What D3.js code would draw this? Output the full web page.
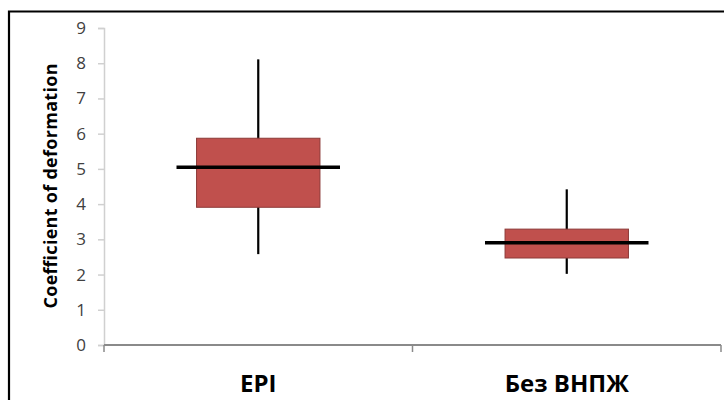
<!DOCTYPE html>
<html>
<head>
<meta charset="utf-8">
<script src="https://cdn.jsdelivr.net/npm/d3@7"></script>
<style>
  body { margin: 0; background: #fff; }
  svg { display: block; }
</style>
</head>
<body>
<script>
// data
var categories = ["EPI", "Без ВНПЖ"];
var whiskerLow  = [2.58, 2.02];
var boxLow      = [3.91, 2.47];
var medians     = [5.05, 2.90];
var boxHigh     = [5.87, 3.29];
var whiskerHigh = [8.11, 4.42];
var yTicks = [0, 1, 2, 3, 4, 5, 6, 7, 8, 9];

var width = 724, height = 400;
var margin = {top: 28, right: 3, bottom: 55, left: 104};

var svg = d3.select("body").append("svg")
    .attr("width", width)
    .attr("height", height);

// chart frame
svg.append("path")
    .attr("d", "M9,400 V11.5 H724")
    .attr("fill", "none")
    .attr("stroke", "#000")
    .attr("stroke-width", 2.2);

var xScale = d3.scaleBand()
    .domain(categories)
    .range([margin.left, width - margin.right]);

var yScale = d3.scaleLinear()
    .domain([0, 9])
    .range([height - margin.bottom, margin.top]);

var rows = categories.map(function (c, i) {
    return {cat: c, wl: whiskerLow[i], bl: boxLow[i], med: medians[i], bh: boxHigh[i], wh: whiskerHigh[i]};
});

// y axis
var yAxis = svg.append("g")
    .attr("transform", "translate(" + margin.left + ",0)")
    .call(d3.axisLeft(yScale).tickValues(yTicks).tickSize(6).tickPadding(12));
yAxis.select(".domain").attr("stroke", "#d0d0d0").attr("stroke-width", 1.5);
yAxis.selectAll(".tick line").attr("stroke", "#d0d0d0").attr("stroke-width", 1.5);
yAxis.selectAll(".tick text")
    .attr("fill", "#404040")
    .attr("font-family", "Open Sans, sans-serif")
    .attr("font-size", 17);

// x axis
var xAxis = svg.append("g")
    .attr("transform", "translate(0," + yScale(0) + ")")
    .call(d3.axisBottom(xScale).tickSize(0).tickFormat(""));
xAxis.select(".domain").remove();
xAxis.append("line")
    .attr("x1", margin.left).attr("x2", width - margin.right)
    .attr("stroke", "#8a8a8a").attr("stroke-width", 2);
var bounds = [margin.left].concat(categories.map(function (c) { return xScale(c) + xScale.bandwidth(); }));
xAxis.selectAll(".sep").data(bounds).enter().append("line")
    .attr("x1", function (d) { return d; }).attr("x2", function (d) { return d; })
    .attr("y1", 0).attr("y2", 7)
    .attr("stroke", "#8a8a8a").attr("stroke-width", 1.5);

svg.selectAll(".cat").data(categories).enter().append("text")
    .attr("x", function (d) { return xScale(d) + xScale.bandwidth() / 2; })
    .attr("y", 392)
    .attr("text-anchor", "middle")
    .attr("font-family", "Open Sans, sans-serif")
    .attr("font-weight", "bold")
    .attr("font-size", 24)
    .attr("fill", "#000")
    .text(function (d) { return d; });

// y title
svg.append("text")
    .attr("transform", "translate(57," + 186 + ") rotate(-90)")
    .attr("text-anchor", "middle")
    .attr("font-family", "Open Sans, sans-serif")
    .attr("font-weight", "bold")
    .attr("font-size", 18)
    .attr("textLength", 245)
    .attr("lengthAdjust", "spacing")
    .attr("fill", "#000")
    .text("Coefficient of deformation");

// boxes
var boxW = xScale.bandwidth() * 0.40;
var medW = xScale.bandwidth() * 0.53;
var g = svg.selectAll(".box").data(rows).enter().append("g").attr("class", "box");
var cx = function (d) { return xScale(d.cat) + xScale.bandwidth() / 2; };

g.append("line")
    .attr("x1", cx).attr("x2", cx)
    .attr("y1", function (d) { return yScale(d.wh); })
    .attr("y2", function (d) { return yScale(d.wl); })
    .attr("stroke", "#000").attr("stroke-width", 2.2);

g.append("rect")
    .attr("x", function (d) { return cx(d) - boxW / 2; })
    .attr("width", boxW)
    .attr("y", function (d) { return yScale(d.bh); })
    .attr("height", function (d) { return yScale(d.bl) - yScale(d.bh); })
    .attr("fill", "#c0504d")
    .attr("stroke", "#8c3a38")
    .attr("stroke-width", 1);

g.append("line")
    .attr("x1", function (d) { return cx(d) - medW / 2; })
    .attr("x2", function (d) { return cx(d) + medW / 2; })
    .attr("y1", function (d) { return yScale(d.med); })
    .attr("y2", function (d) { return yScale(d.med); })
    .attr("stroke", "#000").attr("stroke-width", 3.5);
</script>
</body>
</html>
